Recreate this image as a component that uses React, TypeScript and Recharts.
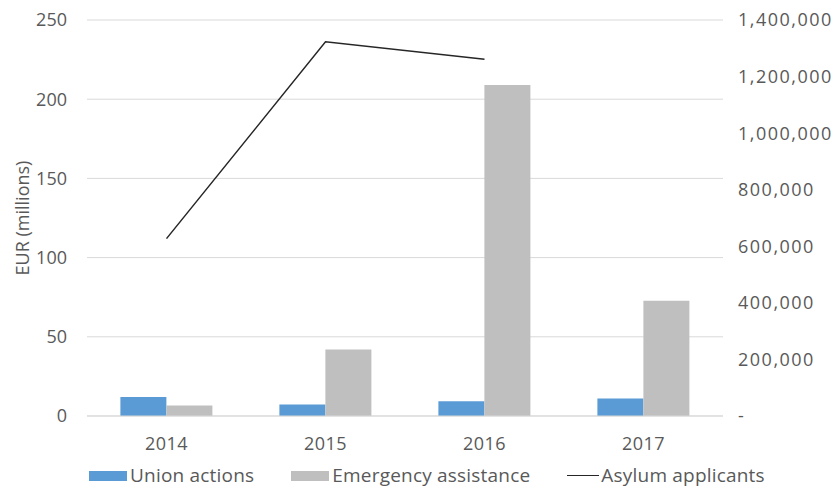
import React from "react";
import {
  ComposedChart,
  Bar,
  Line,
  XAxis,
  YAxis,
  CartesianGrid,
  Legend,
} from "recharts";

const years = ["2014", "2015", "2016", "2017"];
const unionActions = [12, 7.2, 9.3, 11];
const emergencyAssistance = [6.6, 42, 209, 72.7];
const asylumApplicants: (number | null)[] = [627000, 1322800, 1260900, null];

const leftTicks = [0, 50, 100, 150, 200, 250];
const rightTicks = [0, 200000, 400000, 600000, 800000, 1000000, 1200000, 1400000];

const BLUE = "#5B9BD5";
const GRAY = "#BFBFBF";
const LINE = "#262626";
const TEXT = "#595959";
const FONT = "'Open Sans', sans-serif";

const data = years.map((year, i) => ({
  year,
  union: unionActions[i],
  emergency: emergencyAssistance[i],
  asylum: asylumApplicants[i],
}));

const fmtRight = (v: number) => (v === 0 ? "-" : v.toLocaleString("en-US"));

function ChartLegend() {
  const items = [
    { label: "Union actions", kind: "bar", color: BLUE },
    { label: "Emergency assistance", kind: "bar", color: GRAY },
    { label: "Asylum applicants", kind: "line", color: LINE },
  ];
  return (
    <div
      style={{
        display: "flex",
        alignItems: "center",
        paddingLeft: 89,
        paddingTop: 3,
        fontFamily: FONT,
        fontSize: 19,
        lineHeight: "25px",
        color: TEXT,
      }}
    >
      {items.map((it) => (
        <div key={it.label} style={{ display: "flex", alignItems: "center", marginRight: 37 }}>
          {it.kind === "bar" ? (
            <span style={{ width: 38, height: 10, background: it.color, marginRight: 3 }} />
          ) : (
            <span style={{ width: 32, height: 1.5, background: it.color, marginRight: 2 }} />
          )}
          <span style={{ letterSpacing: 0.2, whiteSpace: "nowrap" }}>{it.label}</span>
        </div>
      ))}
    </div>
  );
}

export default function App() {
  return (
    <div style={{ position: "absolute", left: 0, top: 0, background: "#fff" }}>
      <ComposedChart
        width={836}
        height={488}
        data={data}
        margin={{ top: 20, right: 0, bottom: 0, left: 0 }}
        barCategoryGap="21%"
        barGap={0}
        style={{ fontFamily: FONT }}
      >
        <CartesianGrid yAxisId="left" vertical={false} stroke="#d9d9d9" strokeWidth={1} />
        <XAxis
          dataKey="year"
          axisLine={{ stroke: "#d9d9d9" }}
          tickLine={false}
          tickMargin={15}
          height={44}
          tick={{ fill: TEXT, fontSize: 18, letterSpacing: 0.5 }}
        />
        <YAxis
          yAxisId="left"
          domain={[0, 250]}
          ticks={leftTicks}
          axisLine={false}
          tickLine={false}
          tickMargin={14}
          width={87}
          tick={{ fill: TEXT, fontSize: 18 }}
          label={{
            value: "EUR (millions)",
            angle: -90,
            position: "insideLeft",
            offset: 23,
            style: { fill: TEXT, fontSize: 18, textAnchor: "middle" },
          }}
        />
        <YAxis
          yAxisId="right"
          orientation="right"
          domain={[0, 1400000]}
          ticks={rightTicks}
          tickFormatter={fmtRight}
          axisLine={false}
          tickLine={false}
          tickMargin={9}
          width={113}
          tick={{ fill: TEXT, fontSize: 18, letterSpacing: 1.5 }}
        />
        <Legend verticalAlign="bottom" content={<ChartLegend />} wrapperStyle={{ height: 28 }} />
        <Bar yAxisId="left" dataKey="union" name="Union actions" fill={BLUE} isAnimationActive={false} />
        <Bar
          yAxisId="left"
          dataKey="emergency"
          name="Emergency assistance"
          fill={GRAY}
          isAnimationActive={false}
        />
        <Line
          yAxisId="right"
          dataKey="asylum"
          name="Asylum applicants"
          stroke={LINE}
          strokeWidth={1.5}
          dot={false}
          activeDot={false}
          isAnimationActive={false}
        />
      </ComposedChart>
    </div>
  );
}
